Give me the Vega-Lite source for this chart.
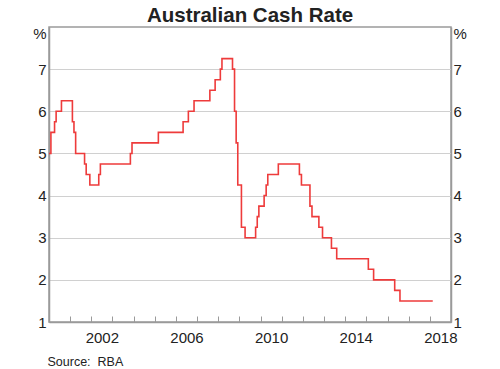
{
  "$schema": "https://vega.github.io/schema/vega-lite/v6.json",
  "width": 402,
  "height": 295,
  "autosize": {"type": "none"},
  "padding": {"left": 49, "top": 27, "right": 49, "bottom": 47},
  "background": "white",
  "config": {
    "font": "Liberation Sans",
    "view": {"stroke": "#9a9a9a", "strokeWidth": 1.5},
    "axis": {"labelFont": "Liberation Sans", "titleFont": "Liberation Sans"}
  },
  "title": {
    "text": "Australian Cash Rate",
    "fontSize": 20.5,
    "fontWeight": "bold",
    "color": "#222222",
    "anchor": "middle",
    "frame": "group",
    "offset": 0
  },
  "data": {
    "values": [
      {"date": "2000-01-01", "rate": 5.00},
      {"date": "2000-02-03", "rate": 5.50},
      {"date": "2000-04-06", "rate": 5.75},
      {"date": "2000-05-03", "rate": 6.00},
      {"date": "2000-08-03", "rate": 6.25},
      {"date": "2001-02-08", "rate": 5.75},
      {"date": "2001-03-07", "rate": 5.50},
      {"date": "2001-04-05", "rate": 5.00},
      {"date": "2001-09-06", "rate": 4.75},
      {"date": "2001-10-04", "rate": 4.50},
      {"date": "2001-12-06", "rate": 4.25},
      {"date": "2002-05-09", "rate": 4.50},
      {"date": "2002-06-06", "rate": 4.75},
      {"date": "2003-11-06", "rate": 5.00},
      {"date": "2003-12-04", "rate": 5.25},
      {"date": "2005-03-03", "rate": 5.50},
      {"date": "2006-05-04", "rate": 5.75},
      {"date": "2006-08-03", "rate": 6.00},
      {"date": "2006-11-09", "rate": 6.25},
      {"date": "2007-08-09", "rate": 6.50},
      {"date": "2007-11-08", "rate": 6.75},
      {"date": "2008-02-06", "rate": 7.00},
      {"date": "2008-03-05", "rate": 7.25},
      {"date": "2008-09-03", "rate": 7.00},
      {"date": "2008-10-08", "rate": 6.00},
      {"date": "2008-11-05", "rate": 5.25},
      {"date": "2008-12-03", "rate": 4.25},
      {"date": "2009-02-04", "rate": 3.25},
      {"date": "2009-04-08", "rate": 3.00},
      {"date": "2009-10-07", "rate": 3.25},
      {"date": "2009-11-04", "rate": 3.50},
      {"date": "2009-12-02", "rate": 3.75},
      {"date": "2010-03-03", "rate": 4.00},
      {"date": "2010-04-07", "rate": 4.25},
      {"date": "2010-05-05", "rate": 4.50},
      {"date": "2010-11-03", "rate": 4.75},
      {"date": "2011-11-02", "rate": 4.50},
      {"date": "2011-12-07", "rate": 4.25},
      {"date": "2012-05-02", "rate": 3.75},
      {"date": "2012-06-06", "rate": 3.50},
      {"date": "2012-10-03", "rate": 3.25},
      {"date": "2012-12-05", "rate": 3.00},
      {"date": "2013-05-08", "rate": 2.75},
      {"date": "2013-08-07", "rate": 2.50},
      {"date": "2015-02-04", "rate": 2.25},
      {"date": "2015-05-06", "rate": 2.00},
      {"date": "2016-05-04", "rate": 1.75},
      {"date": "2016-08-03", "rate": 1.50},
      {"date": "2018-02-20", "rate": 1.50}
    ],
    "format": {"parse": {"date": "utc:'%Y-%m-%d'"}}
  },
  "layer": [
    {
      "mark": {"type": "line", "interpolate": "step-after", "color": "#ee3b3b", "strokeWidth": 1.6},
      "encoding": {
        "x": {
          "field": "date",
          "type": "temporal",
          "scale": {"type": "utc", "domain": [{"year": 2000, "month": 1, "date": 1, "utc": true}, {"year": 2019, "month": 1, "date": 1, "utc": true}]},
          "axis": {
            "orient": "bottom",
            "tickCount": {"interval": "year", "step": 1},
            "grid": false,
            "domainColor": "#9a9a9a",
            "domainWidth": 1.5,
            "tickColor": "#9a9a9a",
            "tickWidth": 1,
            "tickSize": -6,
            "labelExpr": "utcyear(datum.value) % 4 == 2 ? utcFormat(datum.value, '%Y') : ''",
            "labelOffset": 10.5,
            "labelOverlap": false,
            "labelFlush": false,
            "labelFontSize": 15,
            "labelColor": "#222222",
            "labelPadding": 14,
            "title": "Source:\u00a0\u00a0RBA",
            "titleFontSize": 12.5,
            "titleFontWeight": "normal",
            "titleColor": "#222222",
            "titleAnchor": "start",
            "titleAlign": "left",
            "titleX": -2,
            "titleY": 43,
            "titleBaseline": "alphabetic"
          }
        },
        "y": {
          "field": "rate",
          "type": "quantitative",
          "scale": {"domain": [1, 8], "nice": false, "zero": false},
          "axis": {
            "orient": "left",
            "values": [1, 2, 3, 4, 5, 6, 7],
            "grid": true,
            "gridColor": "#d0d0d0",
            "gridWidth": 1.2,
            "ticks": false,
            "domainColor": "#9a9a9a",
            "domainWidth": 1.5,
            "labelFontSize": 15,
            "labelColor": "#222222",
            "labelPadding": 3,
            "title": "%",
            "titleAngle": 0,
            "titleFontSize": 15,
            "titleFontWeight": "normal",
            "titleColor": "#222222",
            "titleAlign": "right",
            "titleBaseline": "middle",
            "titleX": -3,
            "titleY": 6
          }
        }
      }
    },
    {
      "mark": {"type": "line", "interpolate": "step-after", "strokeOpacity": 0},
      "encoding": {
        "x": {"field": "date", "type": "temporal"},
        "y": {
          "field": "rate",
          "type": "quantitative",
          "axis": {
            "orient": "right",
            "values": [1, 2, 3, 4, 5, 6, 7],
            "grid": false,
            "ticks": false,
            "domainColor": "#9a9a9a",
            "domainWidth": 1.5,
            "labelFontSize": 15,
            "labelColor": "#222222",
            "labelPadding": 2,
            "title": "%",
            "titleAngle": 0,
            "titleFontSize": 15,
            "titleFontWeight": "normal",
            "titleColor": "#222222",
            "titleAlign": "left",
            "titleBaseline": "middle",
            "titleX": 2,
            "titleY": 6
          }
        }
      }
    }
  ],
  "resolve": {"axis": {"y": "independent"}}
}
